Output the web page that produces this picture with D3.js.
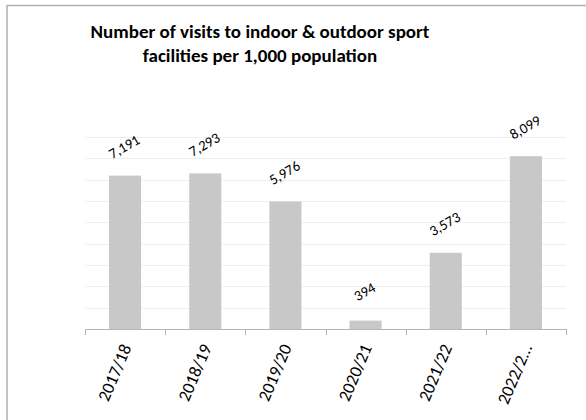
<!DOCTYPE html>
<html><head><meta charset="utf-8">
<script src="https://cdn.jsdelivr.net/npm/d3@7"></script>
<style>
html,body{margin:0;padding:0;background:#fff;}
svg{display:block;font-family:Carlito, Lato, "Liberation Sans", sans-serif;}
</style></head>
<body>
<script>
const categories = ["2017/18","2018/19","2019/20","2020/21","2021/22","2022/2…"];
const values = [7191, 7293, 5976, 394, 3573, 8099];
const yTicks = [0,1000,2000,3000,4000,5000,6000,7000,8000,9000];
const titleLines = ["Number of visits to indoor & outdoor sport","facilities per 1,000 population"];

(function(){
const W = 586, H = 420;
const svg = d3.select("body").append("svg").attr("width", W).attr("height", H);

// chart border
svg.append("rect").attr("x",7).attr("y",5.5).attr("width",590).attr("height",430)
  .attr("fill","none").attr("stroke","#b0b0b0").attr("stroke-width",1.5);

const pLeft = 85, pRight = 566, pTop = 137, pBottom = 329;
const x = d3.scaleBand().domain(categories).range([pLeft,pRight]).paddingInner(0.6).paddingOuter(0.3);
const xb = d3.scaleBand().domain(categories).range([pLeft,pRight]);
const y = d3.scaleLinear().domain([0,9000]).range([pBottom,pTop]);

// gridlines
svg.append("g").selectAll("line").data(yTicks.slice(1)).join("line")
  .attr("x1",pLeft).attr("x2",pRight).attr("y1",d=>Math.round(y(d))+0.5).attr("y2",d=>Math.round(y(d))+0.5)
  .attr("stroke","#eeeeee").attr("stroke-width",1);

// bars
svg.append("g").selectAll("rect").data(values).join("rect")
  .attr("x",(d,i)=>x(categories[i])).attr("width",x.bandwidth())
  .attr("y",d=>y(d)).attr("height",d=>pBottom-y(d)).attr("fill","#c8c8c8");

// x axis
const ax = svg.append("g");
ax.append("line").attr("x1",pLeft).attr("x2",pRight).attr("y1",pBottom+0.5).attr("y2",pBottom+0.5)
  .attr("stroke","#b5b5b5").attr("stroke-width",1);
const tickPos = categories.map(c=>xb(c)).concat([pRight]);
ax.selectAll("line.t").data(tickPos).join("line").attr("class","t")
  .attr("x1",d=>Math.round(d)+0.5).attr("x2",d=>Math.round(d)+0.5).attr("y1",pBottom).attr("y2",pBottom+6)
  .attr("stroke","#b5b5b5").attr("stroke-width",1);

// category labels
svg.append("g").selectAll("text").data(categories).join("text")
  .attr("transform",d=>`translate(${xb(d)+xb.bandwidth()/2+1},${pBottom+16}) rotate(-67)`)
  .attr("text-anchor","end").attr("dy","0.35em")
  .attr("font-size",17.5).attr("fill","#000").text(d=>d);

// value labels
const fmt = d3.format(",");
svg.append("g").selectAll("text").data(values).join("text")
  .attr("transform",(d,i)=>`translate(${x(categories[i])+x.bandwidth()/2-1},${y(d)-29}) rotate(-30)`)
  .attr("text-anchor","middle").attr("dy","0.35em")
  .attr("font-size",14.5).attr("fill","#000").text(d=>fmt(d));

// title
svg.append("g").selectAll("text").data(titleLines).join("text")
  .attr("x",260).attr("y",(d,i)=>38+i*24).attr("text-anchor","middle")
  .attr("font-size",19).attr("font-weight","bold").attr("fill","#000").text(d=>d);
})();
</script>
</body></html>
